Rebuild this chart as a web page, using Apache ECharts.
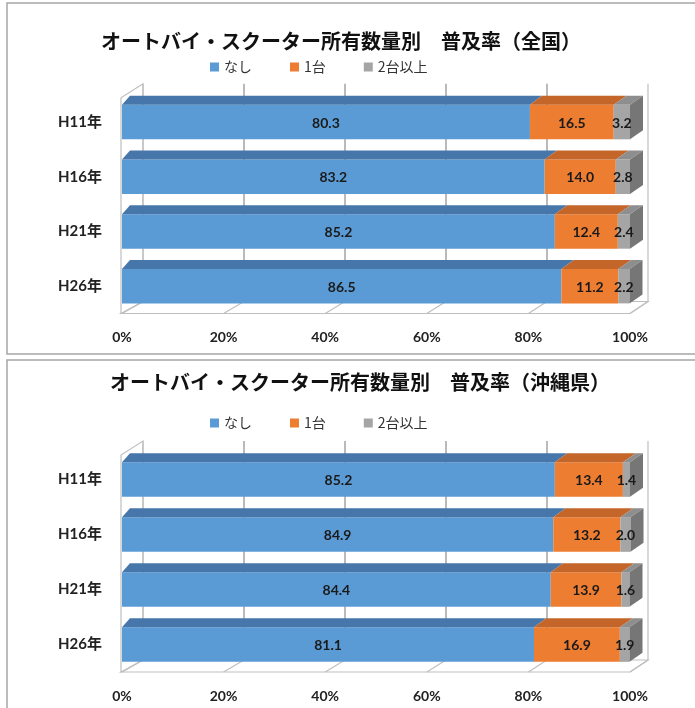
<!DOCTYPE html>
<html>
<head>
<meta charset="utf-8">
<script src="https://cdn.jsdelivr.net/npm/echarts@6/dist/echarts.min.js"></script>
<style>
  html, body { margin: 0; padding: 0; background: #fff; }
  #main { width: 695px; height: 708px; }
</style>
</head>
<body>
<div id="main"></div>
<script>
// データ
const categories = ['H11年', 'H16年', 'H21年', 'H26年'];
const seriesNames = ['なし', '1台', '2台以上'];
const xTicks = [0, 20, 40, 60, 80, 100];

// 全国
const zenkokuNone = [80.3, 83.2, 85.2, 86.5];
const zenkokuOne = [16.5, 14.0, 12.4, 11.2];
const zenkokuTwo = [3.2, 2.8, 2.4, 2.2];

// 沖縄県
const okinawaNone = [85.2, 84.9, 84.4, 81.1];
const okinawaOne = [13.4, 13.2, 13.9, 16.9];
const okinawaTwo = [1.4, 2.0, 1.6, 1.9];

const titles = [
  'オートバイ・スクーター所有数量別　普及率（全国）',
  'オートバイ・スクーター所有数量別　普及率（沖縄県）'
];

const faceColors = ['#5B9BD5', '#ED7D31', '#A5A5A5'];
const topColors = ['#4676AA', '#C4662A', '#8E8E8E'];
const sideColor = '#767676';
const labelFont = 'bold 14px Lato, "Noto Sans CJK JP", sans-serif';

const myChart = echarts.init(document.getElementById('main'));

// 3D 風の棒 (前面 + 上面 + 右側面)
function makeBarRender(idx) {
  return function (params, api) {
    const start = api.value(0);
    const cat = api.value(1);
    const val = api.value(2);
    const p0 = api.coord([start, cat]);
    const p1 = api.coord([start + val, cat]);
    const band = api.size([0, 1])[1];
    const h = band * 0.63;
    const yT = p0[1] - h / 2;
    const yB = p0[1] + h / 2;
    const xa = api.coord([0, cat])[0];
    const xz = api.coord([100, cat])[0];
    const dx = x => 8 + 5 * (x - xa) / (xz - xa);
    const depth = 9;
    const children = [
      {
        type: 'rect',
        shape: { x: p0[0], y: yT, width: p1[0] - p0[0], height: h },
        style: { fill: faceColors[idx] }
      },
      {
        type: 'polygon',
        shape: { points: [[p0[0], yT], [p1[0], yT], [p1[0] + dx(p1[0]), yT - depth], [p0[0] + dx(p0[0]), yT - depth]] },
        style: { fill: topColors[idx] }
      }
    ];
    if (idx === 2) {
      const d = dx(p1[0]);
      children.push({
        type: 'polygon',
        shape: { points: [[p1[0], yT], [p1[0] + d, yT - depth], [p1[0] + d, yB - depth], [p1[0], yB]] },
        style: { fill: sideColor }
      });
    }
    children.push({
      type: 'text',
      style: {
        text: val.toFixed(1),
        x: (p0[0] + p1[0]) / 2,
        y: p0[1] + 1,
        align: 'center',
        verticalAlign: 'middle',
        font: labelFont,
        fill: '#1a1a1a'
      }
    });
    return { type: 'group', children: children };
  };
}

// 枠 (壁・床・目盛線)
function frameRender(params, api) {
  const band = api.size([0, 1])[1];
  const last = categories.length - 1;
  const yTopBand = api.coord([0, 0])[1] - band / 2;
  const yFloor = api.coord([0, last])[1] + band / 2;
  const x = v => api.coord([v, 0])[0];
  const xb = v => x(0) + 21 + (x(100) + 18 - x(0) - 21) * v / 100;
  const yBack = yFloor - 12;
  const wallTop = yTopBand - 11;
  const wall = '#BFBFBF';
  const children = [
    {
      type: 'polygon',
      shape: { points: [[x(0) - 1, yFloor], [x(100), yFloor], [xb(100), yBack], [xb(0), yBack]] },
      style: { fill: '#fff', stroke: wall, lineWidth: 1.2 }
    },
    {
      type: 'polygon',
      shape: { points: [[x(0) - 1, yFloor], [x(0) - 1, yTopBand + 3], [xb(0), wallTop], [xb(0), yBack]] },
      style: { fill: '#fff', stroke: wall, lineWidth: 1.2 }
    }
  ];
  xTicks.forEach(v => {
    children.push({
      type: 'line',
      shape: { x1: xb(v), y1: wallTop, x2: xb(v), y2: yBack },
      style: { stroke: (v === 0 || v === 100) ? wall : '#8C8C8C', lineWidth: 1.2 }
    });
    children.push({
      type: 'line',
      shape: { x1: x(v), y1: yFloor, x2: xb(v), y2: yBack },
      style: { stroke: wall, lineWidth: 1.2 }
    });
  });
  return { type: 'group', children: children };
}

function segData(starts, vals) {
  return vals.map((v, i) => [starts[i], i, v]);
}

function chartSeries(gridIdx, none, one, two) {
  const s1 = none.map(() => 0);
  const s2 = none.slice();
  const s3 = none.map((v, i) => v + one[i]);
  const list = [
    {
      name: 'frame' + gridIdx,
      type: 'custom',
      xAxisIndex: gridIdx,
      yAxisIndex: gridIdx,
      renderItem: frameRender,
      data: [[0, 0, 0]],
      encode: { x: 0, y: 1 },
      silent: true,
      z: 1
    }
  ];
  [[s1, none], [s2, one], [s3, two]].forEach((pair, k) => {
    list.push({
      name: seriesNames[k],
      type: 'custom',
      xAxisIndex: gridIdx,
      yAxisIndex: gridIdx,
      renderItem: makeBarRender(k),
      itemStyle: { color: faceColors[k] },
      data: segData(pair[0], pair[1]),
      encode: { x: 0, y: 1 },
      z: 2
    });
  });
  return list;
}

const gridTops = [94.75, 452];
const gridHeights = [218.75, 220];

const option = {
  backgroundColor: '#fff',
  animation: false,
  graphic: [
    { type: 'rect', shape: { x: 7, y: 3, width: 700, height: 351 }, style: { fill: 'none', stroke: '#A6A6A6', lineWidth: 1.5 } },
    { type: 'rect', shape: { x: 7, y: 360, width: 700, height: 360 }, style: { fill: 'none', stroke: '#A6A6A6', lineWidth: 1.5 } }
  ],
  title: [
    { text: titles[0], left: 341, top: 31, textAlign: 'center', padding: 0,
      textStyle: { fontFamily: '"Noto Sans CJK JP"', fontWeight: 'bold', fontSize: 20, color: '#111' } },
    { text: titles[1], left: 360, top: 372, textAlign: 'center', padding: 0,
      textStyle: { fontFamily: '"Noto Sans CJK JP"', fontWeight: 'bold', fontSize: 20, color: '#111' } }
  ],
  legend: [
    { data: seriesNames, left: 210, top: 60, icon: 'rect', itemWidth: 9, itemHeight: 9, itemGap: 38, padding: 0,
      textStyle: { fontFamily: '"Noto Sans CJK JP"', fontSize: 14, color: '#333' } },
    { data: seriesNames, left: 210, top: 416, icon: 'rect', itemWidth: 9, itemHeight: 9, itemGap: 38, padding: 0,
      textStyle: { fontFamily: '"Noto Sans CJK JP"', fontSize: 14, color: '#333' } }
  ],
  grid: gridTops.map((t, i) => ({ left: 122, right: 65, top: t, height: gridHeights[i] })),
  xAxis: [0, 1].map(i => ({
    type: 'value',
    gridIndex: i,
    min: 0,
    max: 100,
    interval: 20,
    axisLine: { show: false },
    axisTick: { show: false },
    splitLine: { show: false },
    axisLabel: {
      formatter: '{value}%',
      margin: 17,
      fontFamily: 'Lato',
      fontWeight: 'bold',
      fontSize: 14,
      color: '#222'
    }
  })),
  yAxis: [0, 1].map(i => ({
    type: 'category',
    gridIndex: i,
    inverse: true,
    data: categories,
    axisLine: { show: false },
    axisTick: { show: false },
    axisLabel: {
      margin: 20,
      fontFamily: 'Lato, "Noto Sans CJK JP"',
      fontWeight: 'bold',
      fontSize: 15,
      color: '#222',
      padding: [6, 0, 0, 0]
    }
  })),
  series: chartSeries(0, zenkokuNone, zenkokuOne, zenkokuTwo)
    .concat(chartSeries(1, okinawaNone, okinawaOne, okinawaTwo))
};

myChart.setOption(option);
</script>
</body>
</html>
